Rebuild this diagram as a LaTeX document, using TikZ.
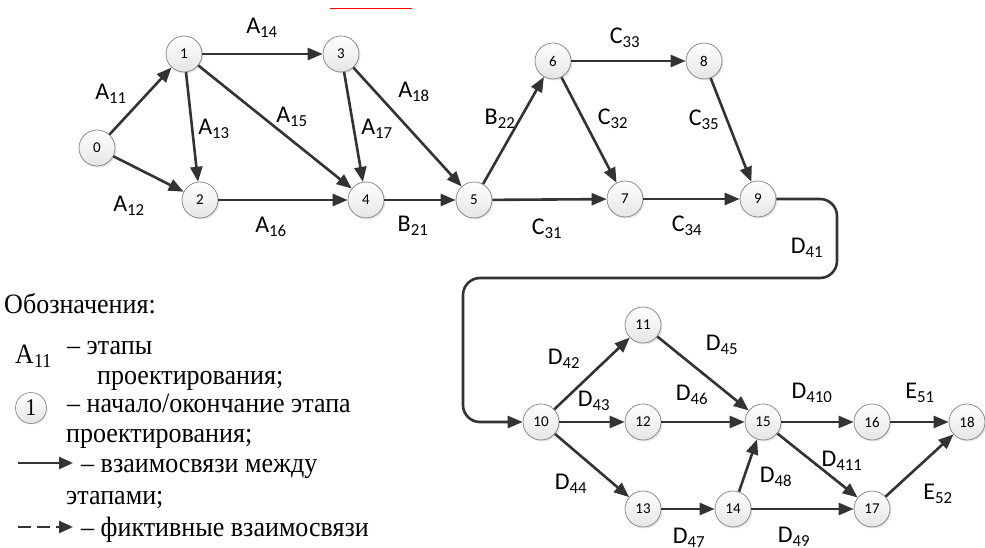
\documentclass[tikz,border=0pt]{standalone}
\usepackage{graphicx}
\usepackage{fontspec}
\setmainfont{Liberation Serif}
\newfontfamily\lblfont{Carlito}
\usetikzlibrary{arrows.meta,positioning,calc,shadows}
\newcommand{\legtext}[1]{\scalebox{0.93}[1]{#1}}

\begin{document}
\begin{tikzpicture}[x=1pt,y=-1pt,
  ev/.style={circle,draw=black!50,line width=0.7pt,top color=white,bottom color=black!10,
    minimum size=36pt,inner sep=0pt,font=\lblfont\fontsize{15}{15}\selectfont,
    drop shadow={shadow xshift=1.5pt,shadow yshift=-1.5pt,opacity=0.2}},
  arr/.style={-{Triangle[length=15pt,width=12pt]},line width=2.6pt,draw=black!80},
  lbl/.style={font=\lblfont\fontsize{24}{24}\selectfont},
  leg/.style={anchor=base west,inner sep=0pt,font=\fontsize{28}{28}\selectfont}
]
  \useasboundingbox (0,0) rectangle (985,548);
  \draw[red,line width=1pt] (330,9) -- (412,9);

  % events
  \foreach \i/\x/\y in {0/97/148,1/184/54,2/200/200,3/341/54,4/366/200,5/474/200,
    6/553/61,7/625/199,8/704/61,9/758/199,10/541/422,11/643/325,12/643/422,
    13/643/509,14/733/509,15/763/422,16/872/422,17/872/509,18/967/422}
    \node[ev] (n\i) at (\x,\y) {\i};

  % links
  \foreach \a/\b in {0/1,0/2,1/2,1/3,1/4,3/4,3/5,2/4,4/5,5/6,5/7,6/7,6/8,8/9,7/9,
    10/11,10/12,10/13,11/15,12/15,13/14,14/15,14/17,15/16,15/17,16/18,17/18}
    \draw[arr] (n\a) -- (n\b);
  \draw[arr,rounded corners=17pt] (n9.east) -- (837,199) -- (837,278) -- (463,278)
    -- (463,422) -- (n10.west);

  % stage labels
  \node[lbl] (la11) at (111,94) {A\textsubscript{11}};
  \node[lbl] (la12) at (129,206) {A\textsubscript{12}};
  \node[lbl] (la13) at (214,129) {A\textsubscript{13}};
  \node[lbl] (la14) at (262,28) {A\textsubscript{14}};
  \node[lbl] (la15) at (292,117) {A\textsubscript{15}};
  \node[lbl] (la16) at (271,227) {A\textsubscript{16}};
  \node[lbl] (la17) at (377,129) {A\textsubscript{17}};
  \node[lbl] (la18) at (414,92) {A\textsubscript{18}};
  \node[lbl] (lb21) at (413,226) {B\textsubscript{21}};
  \node[lbl] (lb22) at (500,119) {B\textsubscript{22}};
  \node[lbl] (lc31) at (547,229) {C\textsubscript{31}};
  \node[lbl] (lc32) at (613,119) {C\textsubscript{32}};
  \node[lbl] (lc33) at (625,38) {C\textsubscript{33}};
  \node[lbl] (lc34) at (687,226) {C\textsubscript{34}};
  \node[lbl] (lc35) at (704,120) {C\textsubscript{35}};
  \node[lbl] (ld41) at (807,248) {D\textsubscript{41}};
  \node[lbl] (ld42) at (564,359) {D\textsubscript{42}};
  \node[lbl] (ld43) at (594,401) {D\textsubscript{43}};
  \node[lbl] (ld44) at (571,484) {D\textsubscript{44}};
  \node[lbl] (ld45) at (722,345) {D\textsubscript{45}};
  \node[lbl] (ld46) at (692,395) {D\textsubscript{46}};
  \node[lbl] (ld47) at (689,538) {D\textsubscript{47}};
  \node[lbl] (ld48) at (776,477) {D\textsubscript{48}};
  \node[lbl] (ld49) at (794,537) {D\textsubscript{49}};
  \node[lbl] (ld410) at (812,393) {D\textsubscript{410}};
  \node[lbl] (ld411) at (842,461) {D\textsubscript{411}};
  \node[lbl] (le51) at (920,393) {E\textsubscript{51}};
  \node[lbl] (le52) at (938,494) {E\textsubscript{52}};

  % legend
  \node[leg] (lgtitle) at (4,313) {\legtext{Обозначения:}};
  \node[leg] (lgA) at (15,363) {\legtext{A\textsubscript{11}}};
  \node[leg] (lgA1) at (67,354) {\legtext{– этапы}};
  \node[leg] (lgA2) at (97,384) {\legtext{проектирования;}};
  \node[circle,draw=black!50,line width=0.6pt,top color=white,bottom color=black!10,
    minimum size=31pt,inner sep=0pt,font=\fontsize{24}{24}\selectfont,
    drop shadow={shadow xshift=1pt,shadow yshift=-1pt,opacity=0.2}] (lgev) at (31,408) {\legtext{1}};
  \node[leg] (lgev1) at (67,412) {\legtext{– начало/окончание этапа}};
  \node[leg] (lgev2) at (66,442) {\legtext{проектирования;}};
  \coordinate (s1) at (18,463);
  \coordinate (s2) at (73,463);
  \draw[arr,-{Triangle[length=14pt,width=12pt]}] (s1) -- (s2);
  \node[leg] (lgs1) at (81,472) {\legtext{– взаимосвязи между}};
  \node[leg] (lgs2) at (66,504) {\legtext{этапами;}};
  \coordinate (d1) at (18,527);
  \coordinate (d2) at (73,527);
  \draw[arr,-{Triangle[length=14pt,width=12pt]},dash pattern=on 13pt off 6pt] (d1) -- (d2);
  \node[leg] (lgd1) at (81,536) {\legtext{– фиктивные взаимосвязи}};
\end{tikzpicture}
\end{document}
